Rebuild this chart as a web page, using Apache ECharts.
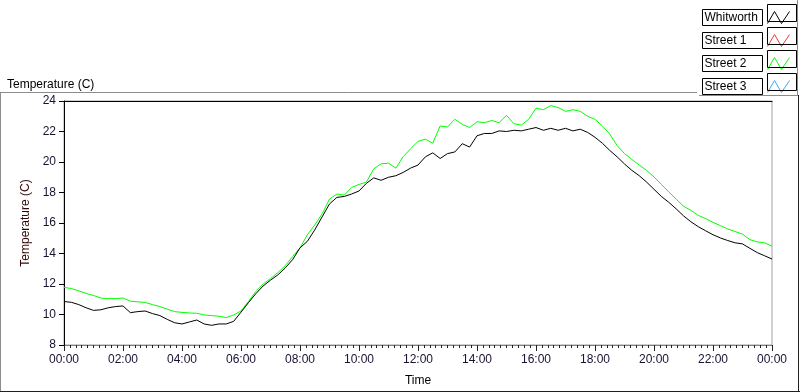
<!DOCTYPE html>
<html>
<head>
<meta charset="utf-8">
<script src="https://cdn.jsdelivr.net/npm/echarts@6/dist/echarts.min.js"></script>
<style>
	html, body {
		margin: 0;
		padding: 0;
		background: #fff;
	}

	#main {
		width: 800px;
		height: 392px;
	}
</style>
</head>
<body>
<div id="main"></div>
<script>
	// minutes since midnight, one sample every 15 min
	var times = [];
	for (var i = 0; i <= 96; i++) {
		times.push(i * 15);
	}

	// Whitworth (black)
	var whitworth = [
		10.85, 10.80, 10.65, 10.44, 10.27, 10.31, 10.44, 10.52, 10.56, 10.12, 10.19, 10.23,
		10.06, 9.93, 9.68, 9.46, 9.38, 9.51, 9.64, 9.38, 9.29, 9.38, 9.38, 9.55,
		10.15, 10.77, 11.36, 11.87, 12.25, 12.60, 13.05, 13.60, 14.37, 14.80, 15.55, 16.40,
		17.25, 17.68, 17.74, 17.90, 18.10, 18.60, 18.96, 18.80, 19.00, 19.10, 19.32, 19.60,
		19.80, 20.34, 20.60, 20.23, 20.55, 20.66, 21.20, 20.98, 21.72, 21.87, 21.87, 22.04,
		22.00, 22.08, 22.04, 22.15, 22.26, 22.08, 22.21, 22.08, 22.21, 22.04, 22.15, 21.94,
		21.62, 21.23, 20.76, 20.34, 19.87, 19.45, 19.10, 18.68, 18.21, 17.74, 17.36, 16.93,
		16.47, 16.08, 15.76, 15.49, 15.23, 15.02, 14.85, 14.70, 14.63, 14.34, 14.06, 13.85,
		13.64
	];

	// Street 2 (green)
	var street2 = [
		11.78, 11.70, 11.55, 11.38, 11.25, 11.08, 11.04, 11.04, 11.08, 10.87, 10.83, 10.79,
		10.65, 10.52, 10.35, 10.19, 10.14, 10.10, 10.08, 9.97, 9.93, 9.89, 9.80, 9.97,
		10.23, 10.85, 11.50, 12.00, 12.35, 12.75, 13.20, 13.80, 14.37, 15.23, 15.87, 16.60,
		17.57, 17.90, 17.83, 18.33, 18.53, 18.68, 19.55, 19.88, 19.92, 19.60, 20.35, 20.87,
		21.35, 21.50, 21.23, 22.36, 22.30, 22.80, 22.47, 22.26, 22.64, 22.58, 22.72, 22.58,
		23.06, 22.51, 22.42, 22.80, 23.53, 23.43, 23.70, 23.57, 23.32, 23.43, 23.32, 23.00,
		22.80, 22.36, 21.83, 21.08, 20.55, 20.17, 19.80, 19.45, 19.02, 18.53, 18.04, 17.57,
		17.10, 16.83, 16.50, 16.29, 16.04, 15.83, 15.61, 15.44, 15.27, 14.91, 14.76, 14.70,
		14.48
	];

	// Street 1 / Street 3 have no samples on the plot
	var street1 = [];
	var street3 = [];

	var names = ['Whitworth', 'Street 1', 'Street 2', 'Street 3'];
	var colors = ['#000000', '#ff3333', '#00ff00', '#33aaff'];
	var yTicks = [8, 10, 12, 14, 16, 18, 20, 22, 24];

	function pairs(vals) {
		return vals.map(function (v, i) { return [times[i], v]; });
	}

	function hhmm(m) {
		m = m % 1440;
		var h = Math.floor(m / 60), mm = m % 60;
		return (h < 10 ? '0' : '') + h + ':' + (mm < 10 ? '0' : '') + mm;
	}

	var font = 'Liberation Sans';
	var chart = echarts.init(document.getElementById('main'));

	// little boxes round the legend line icons
	var iconBoxes = [];
	for (var k = 0; k < 4; k++) {
		iconBoxes.push({
			type: 'rect',
			shape: { x: 767.5, y: 4.5 + k * 23, width: 29, height: 17 },
			style: { fill: 'none', stroke: '#000', lineWidth: 1 },
			z: 10
		});
	}

	// legend entries, each with its own zigzag colour
	var legendData = names.map(function (n, i) {
		return {
			name: n,
			itemStyle: { color: 'transparent', borderColor: colors[i], borderWidth: 1 }
		};
	});

	var option = {
		backgroundColor: '#fff',
		animation: false,
		color: colors,
		textStyle: { fontFamily: font },
		title: {
			text: 'Temperature (C)',
			left: 2,
			top: 74,
			textStyle: { fontFamily: font, fontSize: 12, fontWeight: 'normal', color: '#000' }
		},
		legend: {
			data: legendData,
			orient: 'vertical',
			right: 5,
			top: 4,
			align: 'right',
			itemGap: 6,
			itemWidth: 22,
			itemHeight: 12,
			icon: 'path://M0,12 L7,0 L14,12 L22,0',
			formatter: '{a|{name}}',
			textStyle: {
				fontFamily: font, fontSize: 12, color: '#000',
				borderColor: '#000', borderWidth: 1,
				padding: [1, 2, 0, 2],
				rich: {
					a: { width: 56, height: 15, lineHeight: 15, align: 'left', fontFamily: font, fontSize: 12, color: '#000' }
				}
			},
			selectedMode: false
		},
		grid: {
			left: 64,
			right: 28,
			top: 101,
			bottom: 40,
			show: true,
			borderColor: '#a0a0a0',
			borderWidth: 1
		},
		xAxis: [
			{
				type: 'value',
				min: 0,
				max: 1440,
				interval: 120,
				name: 'Time',
				nameLocation: 'middle',
				nameGap: 30,
				nameTextStyle: { fontFamily: font, fontSize: 12, color: '#000' },
				axisLine: { lineStyle: { color: '#808080', width: 1 } },
				axisTick: { length: 6, lineStyle: { color: '#222' } },
				minorTick: { show: true, splitNumber: 10, length: 3, lineStyle: { color: '#222' } },
				axisLabel: {
					margin: 9,
					fontFamily: font,
					fontSize: 12,
					color: '#1a1030',
					formatter: function (v) { return hhmm(v); }
				},
				splitLine: { show: false }
			},
			{
				type: 'value',
				position: 'top',
				min: 0,
				max: 1440,
				axisLine: { show: true, lineStyle: { color: '#000', width: 1 } },
				axisTick: { show: false },
				axisLabel: { show: false },
				splitLine: { show: false }
			}
		],
		yAxis: {
			type: 'value',
			min: yTicks[0],
			max: yTicks[yTicks.length - 1],
			interval: 2,
			name: 'Temperature (C)',
			nameLocation: 'middle',
			nameRotate: 90,
			nameGap: 30,
			nameTextStyle: { fontFamily: font, fontSize: 12, color: '#300808' },
			axisLine: { show: true, lineStyle: { color: '#000', width: 1 } },
			axisTick: { show: true, length: 5, lineStyle: { color: '#000' } },
			axisLabel: { margin: 8, fontFamily: font, fontSize: 12, color: '#1a1030' },
			splitLine: { show: false }
		},
		series: [
			{
				name: 'Street 2',
				type: 'line',
				data: pairs(street2),
				showSymbol: false,
				lineStyle: { color: colors[2], width: 1 },
				z: 2
			},
			{
				name: 'Street 1',
				type: 'line',
				data: street1,
				showSymbol: false,
				lineStyle: { color: colors[1], width: 1 }
			},
			{
				name: 'Street 3',
				type: 'line',
				data: street3,
				showSymbol: false,
				lineStyle: { color: colors[3], width: 1 }
			},
			{
				name: 'Whitworth',
				type: 'line',
				data: pairs(whitworth),
				showSymbol: false,
				lineStyle: { color: colors[0], width: 1 },
				z: 3
			}
		],
		graphic: [
			// outer panel frame
			{ type: 'line', shape: { x1: 0, y1: 92.5, x2: 697, y2: 92.5 }, style: { stroke: '#8c8c8c', lineWidth: 1 } },
			{ type: 'line', shape: { x1: 0.5, y1: 92, x2: 0.5, y2: 392 }, style: { stroke: '#8c8c8c', lineWidth: 1 } },
			{ type: 'line', shape: { x1: 0, y1: 391.5, x2: 800, y2: 391.5 }, style: { stroke: '#202020', lineWidth: 1 } },
			{ type: 'line', shape: { x1: 798.5, y1: 95, x2: 798.5, y2: 392 }, style: { stroke: '#202020', lineWidth: 1 } },
			// legend panel edges
			{ type: 'line', shape: { x1: 699, y1: 95.5, x2: 798, y2: 95.5 }, style: { stroke: '#8c8c8c', lineWidth: 1 } },
			{ type: 'line', shape: { x1: 797.5, y1: 0, x2: 797.5, y2: 96 }, style: { stroke: '#8c8c8c', lineWidth: 1 } }
		].concat(iconBoxes)
	};

	chart.setOption(option);
</script>
</body>
</html>
